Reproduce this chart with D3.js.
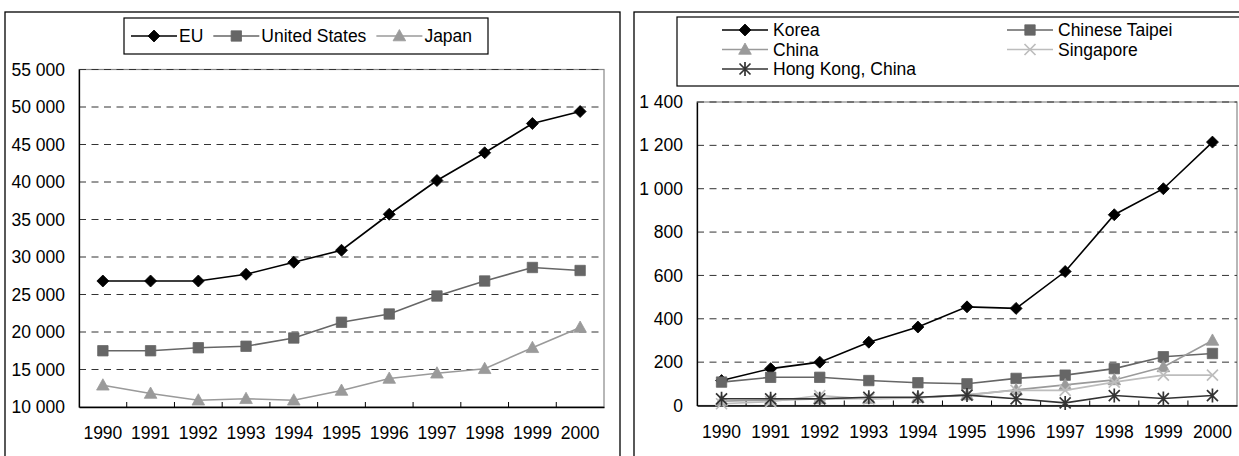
<!DOCTYPE html>
<html><head><meta charset="utf-8">
<script src="https://cdn.jsdelivr.net/npm/d3@7"></script>
<style>
body{margin:0;background:#fff}
text{font-family:"Liberation Sans",Arial,sans-serif;font-size:17.5px;fill:#000}
</style></head>
<body><svg id="c" width="1239" height="456"></svg>
<script>
const years = ["1990","1991","1992","1993","1994","1995","1996","1997","1998","1999","2000"];

// Left panel
const euValues    = [26800, 26800, 26800, 27700, 29300, 30900, 35700, 40200, 43900, 47800, 49400];
const usValues    = [17500, 17500, 17900, 18100, 19200, 21300, 22400, 24800, 26800, 28600, 28200];
const japanValues = [12900, 11800, 10900, 11100, 10900, 12200, 13800, 14500, 15100, 17900, 20600];
const leftTicks      = [10000, 15000, 20000, 25000, 30000, 35000, 40000, 45000, 50000, 55000];
const leftTickLabels = ["10 000","15 000","20 000","25 000","30 000","35 000","40 000","45 000","50 000","55 000"];

// Right panel
const koreaValues     = [115, 170, 200, 292, 362, 455, 448, 618, 880, 1000, 1215];
const taipeiValues    = [108, 130, 130, 115, 105, 100, 125, 140, 170, 225, 240];
const chinaValues     = [20, 25, 30, 32, 36, 48, 72, 95, 118, 178, 300];
const singaporeValues = [8, 18, 46, 30, 35, 50, 70, 70, 108, 140, 140];
const hongkongValues  = [31, 31, 31, 38, 38, 48, 31, 12, 46, 32, 46];
const rightTicks      = [0, 200, 400, 600, 800, 1000, 1200, 1400];
const rightTickLabels = ["0","200","400","600","800","1 000","1 200","1 400"];

const svg = d3.select("#c");
const FONT = '"Liberation Sans",Arial,sans-serif';
const FS = "17.5px";

const markerPaths = {
  diamond: "M0,-6L6,0L0,6L-6,0Z",
  square: "M-5.2,-5.2H5.2V5.2H-5.2Z",
  triangle: "M0,-6.5L6.3,4.8H-6.3Z",
  cross: "M-5.5,-5.5L5.5,5.5M-5.5,5.5L5.5,-5.5",
  star: "M-5.5,-5.5L5.5,5.5M-5.5,5.5L5.5,-5.5M0,-7V7"
};
function drawMarker(g, type, color, x, y){
  const filled = (type==="diamond"||type==="square"||type==="triangle");
  g.append("path").attr("d", markerPaths[type]).attr("transform",`translate(${x},${y})`)
    .attr("fill", filled?color:"none").attr("stroke", color)
    .attr("stroke-width", filled?0.8:1.7);
}

function panel(cfg){
  const g = svg.append("g");
  g.append("rect").attr("x",cfg.frame[0]).attr("y",cfg.frame[1]).attr("width",cfg.frame[2]).attr("height",cfg.frame[3])
    .attr("fill","none").attr("stroke","#000").attr("stroke-width",1.3);
  const x = d3.scaleBand().domain(years).range([cfg.x0, cfg.x1]).paddingInner(0).paddingOuter(0);
  const y = d3.scaleLinear().domain(cfg.domain).range([cfg.y1, cfg.y0]);
  g.append("rect").attr("x",cfg.x0).attr("y",y(cfg.domain[1])).attr("width",cfg.x1-cfg.x0).attr("height",cfg.y1-y(cfg.domain[1]))
    .attr("fill","none").attr("stroke","#888").attr("stroke-width",1.2);
  g.selectAll(".grid").data(cfg.ticks.slice(1)).enter().append("line")
    .attr("x1",cfg.x0).attr("x2",cfg.x1).attr("y1",d=>y(d)).attr("y2",d=>y(d))
    .attr("stroke","#333").attr("stroke-width",1).attr("stroke-dasharray","7,5.5");
  const yAxis = d3.axisLeft(y).tickValues(cfg.ticks).tickFormat((d,i)=>cfg.tickLabels[i]).tickSize(0).tickPadding(14);
  const ya = g.append("g").attr("transform",`translate(${cfg.x0},0)`).call(yAxis);
  ya.select(".domain").attr("stroke","#000").attr("stroke-width",1.3);
  ya.selectAll("text").style("font-family",FONT).style("font-size",FS).attr("fill","#000");
  const xa = g.append("g").attr("transform",`translate(0,${cfg.y1})`)
    .call(d3.axisBottom(x).tickSize(0).tickPadding(20));
  xa.select(".domain").attr("stroke","#000").attr("stroke-width",1.3);
  xa.selectAll("text").style("font-family",FONT).style("font-size",FS).attr("fill","#000");
  g.selectAll(".xt").data(years.slice(1)).enter().append("line")
    .attr("x1",d=>x(d)).attr("x2",d=>x(d)).attr("y1",cfg.y1).attr("y2",cfg.y1-5)
    .attr("stroke","#000").attr("stroke-width",1);
  const cx = d => x(d) + x.bandwidth()/2;
  cfg.series.forEach(s=>{
    const line = d3.line().x((d,i)=>cx(years[i])).y(d=>y(d));
    g.append("path").datum(s.values).attr("d",line).attr("fill","none").attr("stroke",s.color).attr("stroke-width",1.6);
    s.values.forEach((v,i)=>drawMarker(g, s.marker, s.color, cx(years[i]), y(v)));
  });
  return g;
}

const leftSeries = [
  {name:"EU", values:euValues, color:"#000", marker:"diamond"},
  {name:"United States", values:usValues, color:"#666", marker:"square"},
  {name:"Japan", values:japanValues, color:"#9a9a9a", marker:"triangle"}
];
const rightSeries = [
  {name:"Korea", values:koreaValues, color:"#000", marker:"diamond"},
  {name:"Chinese Taipei", values:taipeiValues, color:"#666", marker:"square"},
  {name:"China", values:chinaValues, color:"#9a9a9a", marker:"triangle"},
  {name:"Singapore", values:singaporeValues, color:"#bdbdbd", marker:"cross"},
  {name:"Hong Kong, China", values:hongkongValues, color:"#333", marker:"star"}
];

panel({frame:[5,12,615,470], x0:79, x1:604, y0:69.5, y1:407, domain:[10000,55000],
  ticks:leftTicks, tickLabels:leftTickLabels, series:leftSeries});
panel({frame:[634,12,640,470], x0:697, x1:1237, y0:102, y1:405.5, domain:[0,1400],
  ticks:rightTicks, tickLabels:rightTickLabels, series:rightSeries});

// Left legend
const lg = svg.append("g");
lg.append("rect").attr("x",124).attr("y",18).attr("width",364).attr("height",36)
  .attr("fill","#fff").attr("stroke","#000").attr("stroke-width",1.2);
let lx = 131;
leftSeries.forEach(s=>{
  lg.append("line").attr("x1",lx).attr("x2",lx+46).attr("y1",36).attr("y2",36).attr("stroke",s.color).attr("stroke-width",1.6);
  drawMarker(lg, s.marker, s.color, lx+23, 36);
  const t = lg.append("text").attr("x",lx+48).attr("y",36).attr("dy","0.35em").text(s.name);
  lx = lx + 48 + t.node().getComputedTextLength() + 10;
});

// Right legend
const rg = svg.append("g");
rg.append("rect").attr("x",677).attr("y",17).attr("width",600).attr("height",69)
  .attr("fill","#fff").attr("stroke","#000").attr("stroke-width",1.2);
const legendCols = [722, 1007];
const legendRows = [30, 49.5, 69];
rightSeries.forEach((s,i)=>{
  const lx2 = legendCols[i%2], ly = legendRows[Math.floor(i/2)];
  rg.append("line").attr("x1",lx2).attr("x2",lx2+46).attr("y1",ly).attr("y2",ly).attr("stroke",s.color).attr("stroke-width",1.6);
  drawMarker(rg, s.marker, s.color, lx2+23, ly);
  rg.append("text").attr("x",lx2+51).attr("y",ly).attr("dy","0.35em").text(s.name);
});
</script></body></html>
